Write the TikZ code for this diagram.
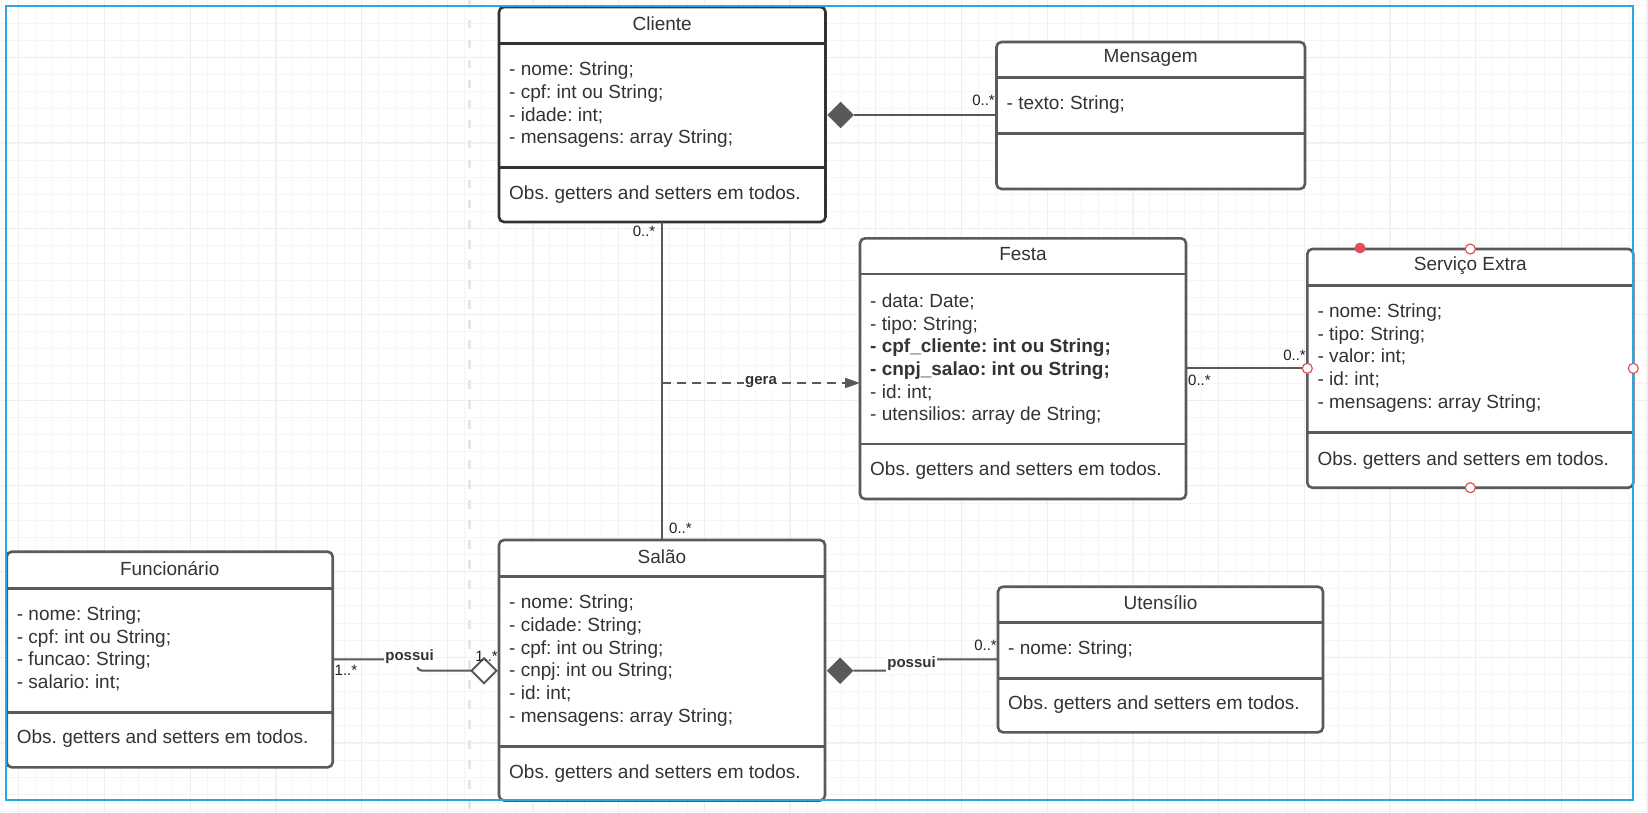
\documentclass[tikz,border=0pt]{standalone}
\usepackage{fontspec}
\setmainfont{Liberation Sans}
\usetikzlibrary{arrows.meta,shapes.geometric}
\definecolor{txt}{HTML}{333333}
\definecolor{bord}{HTML}{5A5A5A}
\definecolor{bordd}{HTML}{333333}
\definecolor{conn}{HTML}{595959}
\definecolor{frameblue}{HTML}{2AA7E2}
\definecolor{gridmin}{HTML}{F5F5F5}
\definecolor{gridmaj}{HTML}{EEEEEE}
\definecolor{markred}{HTML}{E2505F}
\definecolor{dashgray}{HTML}{E6E6E6}
\begin{document}
\frenchspacing
\begin{tikzpicture}[x=1pt,y=-1pt,
  cls/.style={draw=bord, line width=2.6pt, rounded corners=5pt, fill=white, inner sep=0pt, outer sep=0pt, anchor=north west},
  clsdark/.style={cls, draw=bordd},
  sepline/.style={draw=bord, line width=2.6pt},
  sepdark/.style={draw=bordd, line width=2.6pt},
  ctitle/.style={text=txt, font=\fontsize{19}{22.7}\selectfont, inner sep=0pt},
  cattr/.style={text=txt, font=\fontsize{19}{22.7}\selectfont, align=left, anchor=west, inner sep=0pt},
  mult/.style={text=black!88, font=\fontsize{15}{18}\selectfont, inner sep=0pt},
  rel/.style={draw=conn, line width=2pt},
  rlabel/.style={fill=white, text=txt, font=\bfseries\fontsize{15}{18}\selectfont, inner xsep=1pt, inner ysep=3.5pt},
  compo/.style={diamond, fill=conn, draw=none, inner sep=0pt, outer sep=0pt, minimum width=26.5pt, minimum height=26.5pt},
  aggr/.style={diamond, fill=white, draw=conn, line width=2pt, inner sep=0pt, outer sep=0pt, minimum width=25pt, minimum height=25pt},
  gridline/.style={draw=gridmin, line width=1pt},
  gridmajor/.style={draw=gridmaj, line width=1pt},
  hollowmark/.style={circle, draw=markred, fill=white, line width=1.2pt, inner sep=0pt, minimum size=10pt},
  fullmark/.style={circle, fill=markred, inner sep=0pt, minimum size=11pt}
]
% background and bounding box
\fill[white] (0,0) rectangle (1648,813);
\useasboundingbox (0,0) rectangle (1648,813);
% grid
\foreach \i in {0,...,96} \draw[gridline] ({1.5+17.14*\i},0) -- ++(0,813);
\foreach \i in {0,...,47} \draw[gridline] (0,{6+17.14*\i}) -- ++(1648,0);
\foreach \i in {0,...,19} \draw[gridmajor] ({18.9+85.7*\i},0) -- ++(0,813);
\foreach \i in {0,...,9} \draw[gridmajor] (0,{57.3+85.7*\i}) -- ++(1648,0);
% light dashed divider
\draw[dashgray, line width=3pt, dash pattern=on 8.5pt off 11.5pt] (469.5,0) -- (469.5,813);

% ---------- class boxes ----------
% Cliente
\node[clsdark, minimum width=326.5pt, minimum height=215pt] (cliente) at (499,7) {};
\draw[sepdark] (cliente.west |- 0,43.5) -- (cliente.east |- 0,43.5);
\draw[sepdark] (cliente.west |- 0,167.5) -- (cliente.east |- 0,167.5);
\node[ctitle] (clienteT) at (662.2,24) {Cliente};
\node[cattr] (clienteA) at (509,105) {- nome: String;\\- cpf: int ou String;\\- idade: int;\\- mensagens: array String;};
\node[cattr] (clienteO) at (509,194.5) {Obs. getters and setters em todos.};

% Mensagem
\node[cls, minimum width=308.5pt, minimum height=147pt] (mensagem) at (996.5,42) {};
\draw[sepline] (mensagem.west |- 0,77.7) -- (mensagem.east |- 0,77.7);
\draw[sepline] (mensagem.west |- 0,133.4) -- (mensagem.east |- 0,133.4);
\node[ctitle] (mensagemT) at (1150.7,57.5) {Mensagem};
\node[cattr] (mensagemA) at (1006.5,105) {- texto: String;};

% Festa
\node[cls, minimum width=326pt, minimum height=260.7pt] (festa) at (860,238.3) {};
\draw[sepline] (festa.west |- 0,274) -- (festa.east |- 0,274);
\draw[sepline] (festa.west |- 0,444) -- (festa.east |- 0,444);
\node[ctitle] (festaT) at (1023,254.3) {Festa};
\node[cattr] (festaA) at (870,359.3) {- data: Date;\\- tipo: String;\\\textbf{- cpf\_cliente: int ou String;}\\\textbf{- cnpj\_salao: int ou String;}\\- id: int;\\- utensilios: array de String;};
\node[cattr] (festaO) at (870,470.4) {Obs. getters and setters em todos.};

% Servico Extra
\node[cls, minimum width=326pt, minimum height=238.7pt] (serv) at (1307.3,249) {};
\draw[sepline] (serv.west |- 0,285.7) -- (serv.east |- 0,285.7);
\draw[sepline] (serv.west |- 0,432.3) -- (serv.east |- 0,432.3);
\node[ctitle] (servT) at (1470.3,266) {Serviço Extra};
\node[cattr] (servA) at (1317.3,358) {- nome: String;\\- tipo: String;\\- valor: int;\\- id: int;\\- mensagens: array String;};
\node[cattr] (servO) at (1317.3,460.3) {Obs. getters and setters em todos.};

% Salao
\node[cls, minimum width=326pt, minimum height=260.5pt] (salao) at (499,540) {};
\draw[sepline] (salao.west |- 0,576.7) -- (salao.east |- 0,576.7);
\draw[sepline] (salao.west |- 0,746.7) -- (salao.east |- 0,746.7);
\node[ctitle] (salaoT) at (662,557) {Salão};
\node[cattr] (salaoA) at (509,660.5) {- nome: String;\\- cidade: String;\\- cpf: int ou String;\\- cnpj: int ou String;\\- id: int;\\- mensagens: array String;};
\node[cattr] (salaoO) at (509,773.3) {Obs. getters and setters em todos.};

% Funcionario
\node[cls, minimum width=326pt, minimum height=215.6pt] (func) at (6.7,551.7) {};
\draw[sepline] (func.west |- 0,588.3) -- (func.east |- 0,588.3);
\draw[sepline] (func.west |- 0,712.3) -- (func.east |- 0,712.3);
\node[ctitle] (funcT) at (169.7,568.7) {Funcionário};
\node[cattr] (funcA) at (16.7,648.8) {- nome: String;\\- cpf: int ou String;\\- funcao: String;\\- salario: int;};
\node[cattr] (funcO) at (16.7,738.7) {Obs. getters and setters em todos.};

% Utensilio
\node[cls, minimum width=325pt, minimum height=145.6pt] (uten) at (998,586.7) {};
\draw[sepline] (uten.west |- 0,622.7) -- (uten.east |- 0,622.7);
\draw[sepline] (uten.west |- 0,678.3) -- (uten.east |- 0,678.3);
\node[ctitle] (utenT) at (1160.5,602.7) {Utensílio};
\node[cattr] (utenA) at (1008,650) {- nome: String;};
\node[cattr] (utenO) at (1008,705) {Obs. getters and setters em todos.};

% ---------- connectors ----------
% Cliente -- Mensagem (composition)
\node[compo, anchor=west, xshift=1.8pt] (dcm) at (cliente.east |- 0,115) {};
\draw[rel] (dcm.east) -- (mensagem.west |- dcm.east);
\node[mult, anchor=east] (mCM) at (995,100) {0..*};

% Cliente -- Salao
\draw[rel] (cliente.south) -- (cliente.south |- salao.north);
\node[mult, anchor=east] (mCS1) at (655.5,231.7) {0..*};
\node[mult, anchor=west] (mCS2) at (669,528) {0..*};

% gera (dependency)
\coordinate (geraS) at (cliente.south |- 0,383);
\draw[rel, dash pattern=on 9pt off 6pt, -{Triangle[length=15pt,width=10pt]}] (geraS) -- (festa.west |- geraS);
\node[rlabel] (geraL) at (761,382) {gera};

% Festa -- Servico Extra
\draw[rel] (festa.east |- serv.west) -- (serv.west);
\node[mult, anchor=west] (mFS1) at (1188,380) {0..*};
\node[mult, anchor=east] (mFS2) at (1306,355) {0..*};

% Funcionario -- Salao (aggregation)
\node[aggr, anchor=east, xshift=-2.5pt] (dfs) at (salao.west |- 0,670.7) {};
\draw[rel, rounded corners=5pt] (func.east |- 0,659.3) -- (417,659.3) -- (417,670.7) -- (dfs.west);
\node[rlabel] (possui1) at (409.5,656.7) {possui};
\node[mult, anchor=west] (mFu1) at (334.5,670) {1..*};
\node[mult, anchor=east] (mFu2) at (498,656.5) {1..*};

% Salao -- Utensilio (composition)
\node[compo, anchor=west, xshift=1.8pt] (dsu) at (salao.east |- 0,670.7) {};
\draw[rel, rounded corners=5pt] (dsu.east) -- (911.5,670.7) -- (911.5,659.3) -- (uten.west |- 0,659.3);
\node[rlabel] (possui2) at (911.5,663.3) {possui};
\node[mult, anchor=east] (mSU) at (997,645.7) {0..*};

% frame
\draw[frameblue, line width=2pt] (6,6) rectangle (1633.3,799.5);

% selection markers on Servico Extra
\node[fullmark] (mk0) at (1360,248) {};
\node[hollowmark] (mk1) at (serv.north) {};
\node[hollowmark] (mk2) at (serv.west) {};
\node[hollowmark] (mk3) at (serv.east) {};
\node[hollowmark] (mk4) at (serv.south) {};
\end{tikzpicture}
\end{document}
